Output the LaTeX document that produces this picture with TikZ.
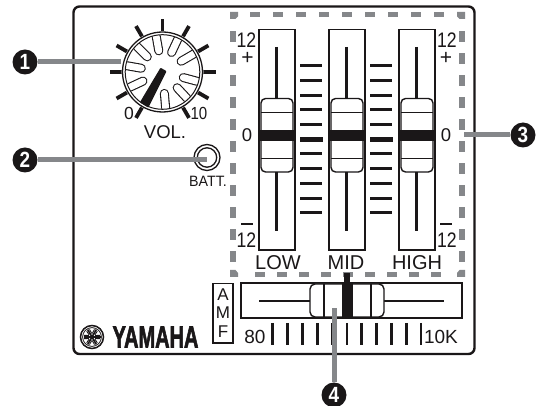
\documentclass[tikz,border=0pt]{standalone}
\usepackage{fontspec}
\setmainfont{Liberation Sans}
\newfontfamily\hvy[FakeBold=2.5]{Liberation Sans Bold}
\newcommand{\fsz}[1]{\fontsize{#1}{#1}\selectfont}
\newcommand{\cnd}[2][.86]{\scalebox{#1}[1]{#2}}
\definecolor{lead}{HTML}{85878A}
\definecolor{ink}{HTML}{1A1718}
\tikzset{
  x=1pt,y=-1pt,
  lbl/.style={inner sep=0pt,text=ink,font=\fsz{18.5}},
  leadline/.style={draw=lead,line width=5pt},
  callout/.style={circle,fill=ink,minimum size=25pt,inner sep=0pt,text=white,font=\fsz{22}\bfseries},
  thin/.style={draw=ink,line width=1.2pt},
}
\begin{document}
\begin{tikzpicture}
\useasboundingbox (0,0) rectangle (542,406);
\fill[white] (0,0) rectangle (542,406);
% frame
\draw[ink,line width=2.4pt,rounded corners=6pt] (73.5,6.5) rectangle (474.5,354);
% dashed box
\foreach \x in {250,273,...,445}{\fill[lead] (\x,12.5) rectangle ++(10,4.5);}
\foreach \y in {31,53,...,270}{\fill[lead] (229.5,\y) rectangle ++(6,11);}
\foreach \y in {31,53,...,270}{\fill[lead] (459,\y) rectangle ++(6,11);}
\foreach \x in {254.5,276.5,...,445}{\fill[lead] (\x,272.5) rectangle ++(10,4.5);}
\fill[lead] (230,12)--(238,12)--(238,16.5)--(235.5,19)--(230,19)--cycle;
\fill[lead] (465,12)--(457,12)--(457,16.5)--(459.5,19)--(465,19)--cycle;
\fill[lead] (230,277)--(238,277)--(238,273)--(235.5,270)--(230,270)--cycle;
\fill[lead] (465,277)--(457,277)--(457,273)--(459.5,270)--(465,270)--cycle;
% vertical sliders
\foreach \c in {277,347,417}{
  \draw[ink,line width=1.4pt,fill=white] (\c-18,29.5) rectangle (\c+18,250);
  \draw[ink,line width=2.8pt] (\c-.5,47)--(\c-.5,98) (\c-.5,172)--(\c-.5,231);
  \draw[ink,line width=1.4pt,fill=white,rounded corners=4.5pt] (\c-16,98.5) rectangle (\c+16,172);
  \draw[thin] (\c-16,112.5)--(\c+16,112.5) (\c-16,158.5)--(\c+16,158.5);
  \fill[ink] (\c-18,130) rectangle (\c+18,141);
}
% scale marks
\foreach \x in {300,370}{
  \foreach \y in {65.5,80.3,95.1,110,125,154,169,183.5,198.3,213}{
    \draw[ink,line width=3pt] (\x,\y)--(\x+22,\y);
  }
  \draw[ink,line width=5pt] (\x,139.5)--(\x+23,139.5);
}
% slider labels
\node[lbl,font=\fsz{21}] (hl) at (246.5,40.5) {\cnd[.84]{12}};
\node[lbl,font=\fsz{21}] (pl) at (247.5,58) {+};
\node[lbl] (zl) at (247,135) {0};
\draw[ink,line width=2.4pt] (241,224)--(253,224);
\node[lbl,font=\fsz{21}] (ll) at (246.5,240) {\cnd[.84]{12}};
\node[lbl,font=\fsz{21}] (hr) at (447,40.5) {\cnd[.84]{12}};
\node[lbl,font=\fsz{21}] (pr) at (446,58) {+};
\node[lbl] (zr) at (446,135) {0};
\draw[ink,line width=2.4pt] (440,224)--(452,224);
\node[lbl,font=\fsz{21}] (lr) at (447,240) {\cnd[.84]{12}};
\node[lbl,font=\fsz{20}] (low) at (278,263) {LOW};
\node[lbl,font=\fsz{20}] (mid) at (346,263) {MID};
\node[lbl,font=\fsz{20}] (high) at (417,263) {HIGH};
% volume knob
\foreach \a in {-60,-30,...,240}{
  \draw[ink,line width=3.8pt] ({162.5+38*cos(\a)},{72-38*sin(\a)})--({162.5+53*cos(\a)},{72-53*sin(\a)});
}
\fill[white] (162.5,72) circle (40);
\foreach \a in {100,65,30,-15,-47,-85,135,170,205}{
  \draw[ink,line width=9pt,line cap=round] ({162.5+21.5*cos(\a)},{72-21.5*sin(\a)})--({162.5+36*cos(\a)},{72-36*sin(\a)});
  \draw[white,line width=6.8pt,line cap=round] ({162.5+21.5*cos(\a)},{72-21.5*sin(\a)})--({162.5+36*cos(\a)},{72-36*sin(\a)});
}
\draw[white,line width=4pt] (162.5,72) circle (39);
\draw[ink,line width=1.3pt] (162.5,72) circle (40);
\draw[ink,line width=1pt] (162.5,72) circle (37.3);
\fill[ink,draw=ink,line width=1.6pt,line join=round] (165.5,71.5)--(160.8,68.8)--(141,102)--(148,106.5)--cycle;
\node[lbl,font=\fsz{17.5}] (v0) at (129,113) {0};
\node[lbl,font=\fsz{17.5}] (v10) at (199,113) {\cnd{10}};
\node[lbl,font=\fsz{18.5}] (vol) at (165,132) {VOL.};
% jack
\draw[ink,line width=1.3pt,fill=white] (207,157.5) circle (13);
\draw[ink,line width=1.3pt] (207,157.5) circle (9.7);
\node[lbl,font=\fsz{15}] (batt) at (208,181.5) {\cnd[.95]{BATT.}};
% horizontal slider
\draw[ink,line width=1.4pt,fill=white] (241,283) rectangle (462,318);
\draw[ink,line width=2.8pt] (259,301)--(444,301);
\draw[ink,line width=1.4pt,fill=white,rounded corners=5pt] (310,284) rectangle (384,317);
\draw[thin] (324,284)--(324,317) (371,284)--(371,317);
\fill[ink] (342,283) rectangle (353,318);
\fill[ink] (343.5,273) rectangle (349.5,283);
% A M F
\draw[ink,line width=1.1pt] (213,283.5) rectangle (233,343);
\node[lbl,font=\fsz{17}] (a) at (223,295) {A};
\node[lbl,font=\fsz{17}] (m) at (223,313) {M};
\node[lbl,font=\fsz{17}] (f) at (223,332) {F};
% bottom scale
\foreach \i in {0,...,10}{\draw[ink,line width=2.8pt] ({272.8+14.82*\i},323)--({272.8+14.82*\i},345);}
\node[lbl,font=\fsz{19}] (n80) at (255,337) {80};
\node[lbl,font=\fsz{19}] (n10k) at (441,337) {10K};
% logo
\draw[ink,line width=1.5pt] (92,337) circle (11.5);
\draw[ink,line width=.8pt] (92,337) circle (9.4);
\foreach \a in {0,60,120}{
  \draw[ink,line width=1.6pt] ({92+8.5*cos(\a)},{337+8.5*sin(\a)})--({92-8.5*cos(\a)},{337-8.5*sin(\a)});
}
\foreach \a in {0,60,...,300}{
  \draw[ink,line width=.9pt] ({92+3.5*cos(\a+25)},{337+3.5*sin(\a+25)})--({92+8*cos(\a+12)},{337+8*sin(\a+12)});
  \draw[ink,line width=.9pt] ({92+3.5*cos(\a-25)},{337+3.5*sin(\a-25)})--({92+8*cos(\a-12)},{337+8*sin(\a-12)});
}
\node[inner sep=0pt,text=ink] (yam) at (155.5,337) {\scalebox{.655}[1]{\fsz{30.5}\hvy YAMAHA}};
% callouts
\node[callout] (c1) at (25,62) {\cnd{1}};
\node[callout] (c2) at (25,160) {\cnd{2}};
\node[callout] (c3) at (523,135) {\cnd{3}};
\node[callout] (c4) at (334,395) {\cnd{4}};
\coordinate (e1) at (121,62);
\coordinate (e2) at (207,160);
\coordinate (e3) at (464,135);
\coordinate (e4) at (334,308);
\draw[leadline] (c1)--(e1);
\draw[leadline] (c2)--(e2);
\draw[leadline] (c3)--(e3);
\draw[leadline] (c4)--(e4);
\end{tikzpicture}
\end{document}
